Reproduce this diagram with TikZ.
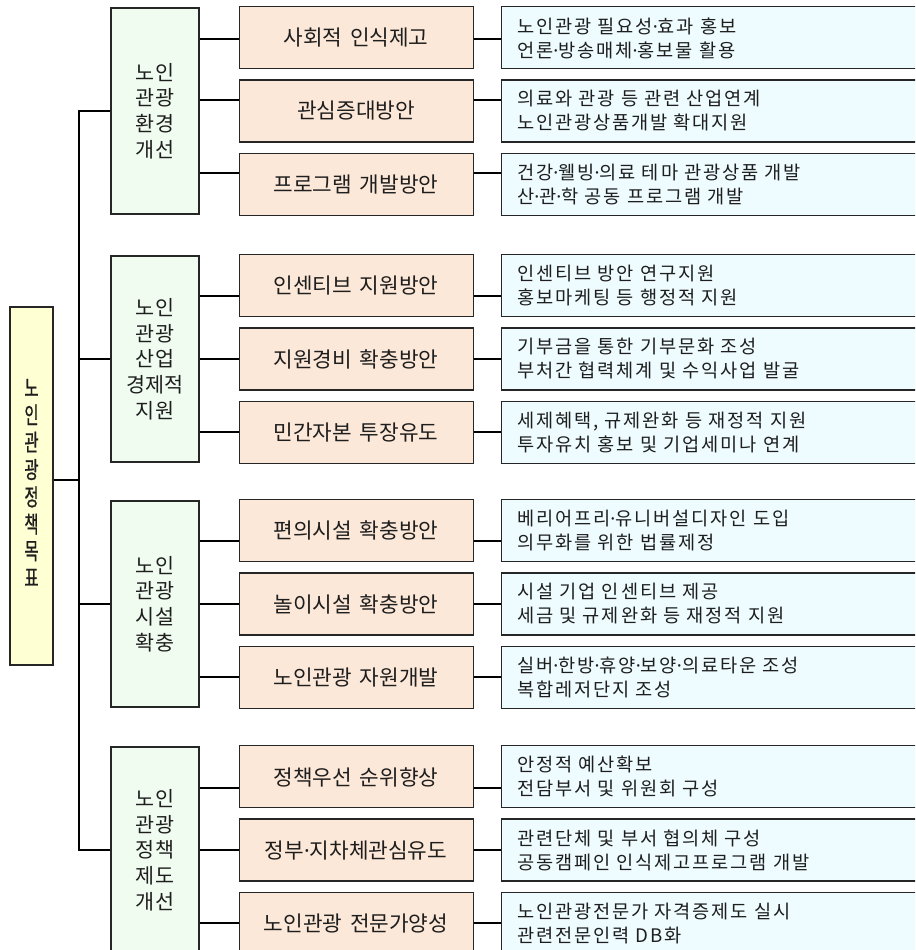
\documentclass[tikz,border=0pt]{standalone}
\usepackage{fontspec}
\usepackage{graphicx}
\setmainfont{Noto Sans CJK KR}
\newfontfamily\krfont[WordSpace=1.6]{Noto Sans CJK KR}
\newfontfamily\krwide[LetterSpace=10, WordSpace=2]{Noto Sans CJK KR}
\newfontfamily\krbold[FakeBold=1]{Noto Sans CJK KR}
\newfontfamily\latinfont{Noto Sans}
\newcommand\dt{{\latinfont ·}}
\newcommand\narrowstack[1]{\scalebox{0.66}[1]{\begin{tabular}{@{}c@{}}#1\end{tabular}}}
\usetikzlibrary{positioning}
\definecolor{goalfill}{HTML}{FFFFD4}
\definecolor{areafill}{HTML}{F1FCF1}
\definecolor{planfill}{HTML}{FCE8D8}
\definecolor{taskfill}{HTML}{EEFCFF}
\definecolor{ink}{HTML}{1E1E1E}
\tikzset{box/.style={draw=black!85, line width=0.8pt, inner sep=0pt, text=ink},
  goal node/.style={box, fill=goalfill, minimum width=32.25pt, minimum height=268.5pt,
    align=center, font=\krbold\fontsize{17.5}{20}\selectfont},
  area node/.style={box, fill=areafill, minimum width=66pt, minimum height=154.5pt,
    align=center, font=\krfont\fontsize{15.5}{19.3}\selectfont},
  plan node/.style={box, fill=planfill, minimum width=175.5pt, minimum height=46.5pt,
    font=\krfont\fontsize{16}{18}\selectfont},
  task node/.style={box, fill=taskfill, minimum width=322.5pt, minimum height=46.5pt,
    inner xsep=12pt, text width=298.5pt, align=left, font=\krwide\fontsize{14}{18}\selectfont},
  link/.style={line width=1.5pt, black},}

\begin{document}
\begin{tikzpicture}[x=0.75pt, y=-0.75pt]
   \useasboundingbox (0,0) rectangle (915,950);
   \clip (0,0) rectangle (915,950);

   \node[goal node] (goal) at (31.5,486) {\narrowstack{노\\인\\관\\광\\정\\책\\목\\표}};
   \coordinate (trunk) at (79,486);

   % policy areas
   \node[area node] (g1) at (155,111) {노인\\관광\\환경\\개선};
   \node[area node] (g2) at (155,359) {노인\\관광\\산업\\경제적\\지원};
   \node[area node] (g3) at (155,604) {노인\\관광\\시설\\확충};
   \node[area node] (g4) at (155,850) {노인\\관광\\정책\\제도\\개선};

   % plans
   \node[plan node] (p12) [right=29.25pt of g1] {관심증대방안};
   \node[plan node] (p11) [above=7.5pt of p12] {사회적 인식제고};
   \node[plan node] (p13) [below=7.5pt of p12] {프로그램 개발방안};
   \node[plan node] (p22) [right=29.25pt of g2] {지원경비 확충방안};
   \node[plan node] (p21) [above=7.5pt of p22] {인센티브 지원방안};
   \node[plan node] (p23) [below=7.5pt of p22] {민간자본 투장유도};
   \node[plan node] (p32) [right=29.25pt of g3] {놀이시설 확충방안};
   \node[plan node] (p31) [above=7.5pt of p32] {편의시설 확충방안};
   \node[plan node] (p33) [below=7.5pt of p32] {노인관광 자원개발};
   \node[plan node] (p42) [right=29.25pt of g4] {정부\dt 지차체관심유도};
   \node[plan node] (p41) [above=7.5pt of p42] {정책우선 순위향상};
   \node[plan node] (p43) [below=7.5pt of p42] {노인관광 전문가양성};

   % tasks
   \node[task node] (t11) [right=20.25pt of p11] {노인관광 필요성\dt 효과 홍보\\언론\dt 방송매체\dt 홍보물 활용};
   \node[task node] (t12) [right=20.25pt of p12] {의료와 관광 등 관련 산업연계\\노인관광상품개발 확대지원};
   \node[task node] (t13) [right=20.25pt of p13] {건강\dt 웰빙\dt 의료 테마 관광상품 개발\\산\dt 관\dt 학 공동 프로그램 개발};
   \node[task node] (t21) [right=20.25pt of p21] {인센티브 방안 연구지원\\홍보마케팅 등 행정적 지원};
   \node[task node] (t22) [right=20.25pt of p22] {기부금을 통한 기부문화 조성\\부처간 협력체계 및 수익사업 발굴};
   \node[task node] (t23) [right=20.25pt of p23] {세제혜택, 규제완화 등 재정적 지원\\투자유치 홍보 및 기업세미나 연계};
   \node[task node] (t31) [right=20.25pt of p31] {베리어프리\dt 유니버설디자인 도입\\의무화를 위한 법률제정};
   \node[task node] (t32) [right=20.25pt of p32] {시설 기업 인센티브 제공\\세금 및 규제완화 등 재정적 지원};
   \node[task node] (t33) [right=20.25pt of p33] {실버\dt 한방\dt 휴양\dt 보양\dt 의료타운 조성\\복합레저단지 조성};
   \node[task node] (t41) [right=20.25pt of p41] {안정적 예산확보\\전담부서 및 위원회 구성};
   \node[task node] (t42) [right=20.25pt of p42] {관련단체 및 부서 협의체 구성\\공동캠페인 인식제고프로그램 개발};
   \node[task node] (t43) [right=20.25pt of p43] {노인관광전문가 자격증제도 실시\\관련전문인력 DB화};

   % tree lines
   \draw[link] ([yshift=4.5pt]goal.east) -- ([yshift=4.5pt]goal.east -| trunk);
   \draw[link] (g1.west) -- (g1.west -| trunk) -- (g4.west -| trunk) -- (g4.west);
   \draw[link] (g2.west -| trunk) -- (g2.west) (g3.west -| trunk) -- (g3.west);
   \foreach \g/\r/\s in {1/1/-0.75pt, 1/2/8.25pt, 1/3/8.25pt, 2/1/-7.5pt, 2/2/0pt, 2/3/0pt,
                        3/1/-7.5pt, 3/2/0pt, 3/3/0pt, 4/1/-8.25pt, 4/2/0pt, 4/3/0pt}
     \draw[link] ([yshift=\s]p\g\r.west -| g\g.east) -- ([yshift=\s]p\g\r.west)
                 ([yshift=\s]p\g\r.east) -- ([yshift=\s]p\g\r.east -| t\g\r.west);
\end{tikzpicture}
\end{document}
